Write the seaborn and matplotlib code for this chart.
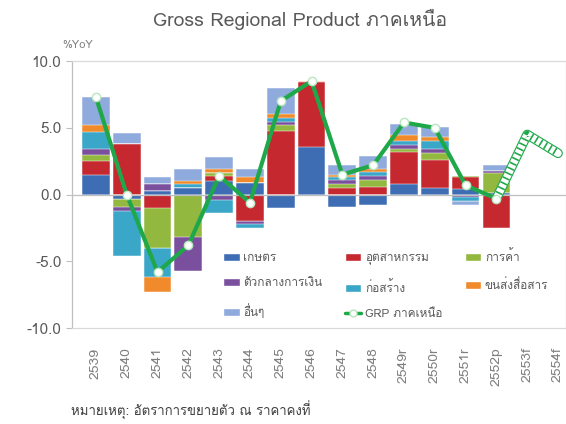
import numpy as np
import pandas as pd
import matplotlib
matplotlib.use("Agg")
import matplotlib.pyplot as plt
from matplotlib.patches import Patch
from matplotlib.lines import Line2D
from matplotlib import font_manager
import seaborn as sns

years = ['2539', '2540', '2541', '2542', '2543', '2544', '2545', '2546', '2547', '2548',
         '2549r', '2550r', '2551r', '2552p', '2553f', '2554f']

# contribution to growth by sector (% pts)
agri   = [1.5, -0.3, 0.3, 0.5, 1.0, 0.9, -1.0, 3.6, -0.95, -0.8, 0.8, 0.5, 0.4, 0.1, 0, 0]
ind    = [1.0, 3.8, -1.0, 0.0, 0.4, -2.0, 4.8, 4.8, 0.5, 0.6, 2.4, 2.1, 0.9, -2.5, 0, 0]
trade  = [0.5, -0.6, -3.0, -3.2, 0.2, 0.0, 0.4, 0.0, 0.3, 0.5, 0.2, 0.5, 0.1, 1.5, 0, 0]
fin    = [0.4, -0.3, 0.5, -2.5, -0.4, -0.2, 0.2, 0.0, 0.3, 0.3, 0.3, 0.3, -0.2, 0.2, 0, 0]
constr = [1.3, -3.4, -2.2, 0.3, -1.0, -0.3, 0.3, 0.0, 0.2, 0.3, 0.3, 0.6, -0.3, 0.0, 0, 0]
trans  = [0.5, 0.0, -1.1, 0.2, 0.3, 0.4, 0.3, 0.1, 0.2, 0.2, 0.5, 0.3, 0.0, 0.0, 0, 0]
others = [2.1, 0.8, 0.5, 0.9, 0.9, 0.6, 2.0, 0.0, 0.7, 1.0, 0.8, 0.8, -0.3, 0.4, 0, 0]

grp = [7.3, 0.0, -5.8, -3.8, 1.4, -0.6, 7.0, 8.5, 1.5, 2.2, 5.4, 5.0, 0.7, -0.3, np.nan, np.nan]
grp_fc = [np.nan] * 13 + [-0.3, 4.5, 3.1]

sectors = ['เกษตร', 'อุตสาหกรรม', 'การค้า', 'ตัวกลางการเงิน', 'ก่อสร้าง', 'ขนส่งสื่อสาร', 'อื่นๆ']
colors = ['#3F6DB4', '#C5282E', '#93B840', '#7A4F9E', '#3AA6C8', '#F08A2B', '#8FAADC']
values = [agri, ind, trade, fin, constr, trans, others]
GREEN = '#1FA84A'


def thai_family():
    from fontTools.ttLib import TTFont
    found = []
    for f in font_manager.fontManager.ttflist:
        try:
            cmap = TTFont(f.fname, fontNumber=0, lazy=True).getBestCmap()
            if 0x0E01 in cmap:
                found.append(f.name)
        except Exception:
            pass
    return found[0] if found else None


sns.set_style("white")
fam = thai_family()
plt.rcParams['font.family'] = ([fam] if fam else []) + ['DejaVu Sans']

fig = plt.figure(figsize=(5.66, 4.24), dpi=100)
ax = fig.add_axes([0.127, 0.226, 0.873, 0.630])

# stacked bars: positive / negative parts stacked separately (overlapping cumulative bars)
vals = np.array(values)
pos_cum = np.cumsum(np.clip(vals, 0, None), axis=0)
neg_cum = np.cumsum(np.clip(vals, None, 0), axis=0)
for i in range(len(sectors) - 1, -1, -1):
    for cum in (pos_cum, neg_cum):
        df = pd.DataFrame({'year': years, 'v': cum[i]})
        sns.barplot(data=df, x='year', y='v', order=years, color=colors[i], saturation=1,
                    width=0.9, edgecolor='white', linewidth=0.35, ax=ax)

ax.axhline(0, color='#BFBFBF', lw=0.9, zorder=1)

idx = np.arange(len(years))
line_df = pd.DataFrame({'i': idx, 'grp': grp, 'fc': grp_fc})
# forecast: thin-outlined band with hatched fill
sns.lineplot(data=line_df, x='i', y='fc', color=GREEN, lw=7, ax=ax, sort=False, zorder=4)
sns.lineplot(data=line_df, x='i', y='fc', color='white', lw=5.4, ax=ax, sort=False, zorder=4)
sns.lineplot(data=line_df, x='i', y='fc', color=GREEN, lw=5.4, ax=ax, sort=False, zorder=4)
ax.lines[-1].set_dashes([0.22, 0.5])
sns.lineplot(data=line_df, x='i', y='grp', color=GREEN, lw=3, marker='o', ms=6,
             mfc='white', mec='#B8E6BF', mew=1, ax=ax, sort=False, zorder=5)

ax.set_xlim(-0.78, 15.26)
ax.set_ylim(-10, 10)
ax.set_yticks([-10, -5, 0, 5, 10])
ax.set_yticklabels([f'{v:.1f}' for v in [-10, -5, 0, 5, 10]])
ax.set_xticks(idx)
ax.set_xticklabels(years, rotation=90)
ax.set_xlabel('')
ax.set_ylabel('')
ax.tick_params(axis='y', labelsize=11, labelcolor='#595959', colors='#BFBFBF',
               length=4, width=0.8, left=True)
ax.tick_params(axis='x', labelsize=10, labelcolor='#7F7F7F', length=0, pad=14)
for s in ax.spines.values():
    s.set_color('#D9D9D9')
    s.set_linewidth(0.9)
ax.spines['left'].set_color('#BFBFBF')

handles = [Patch(facecolor=c, edgecolor='white') for c in colors]
handles.append(Line2D([], [], color=GREEN, lw=2.5, marker='o', ms=5, mfc='white', mec='#B8E6BF'))
labels = sectors + ['GRP ภาคเหนือ']
order = [0, 3, 6, 1, 4, 7, 2, 5]
ax.legend([handles[k] for k in order], [labels[k] for k in order], ncol=3, frameon=False,
          loc='upper left', bbox_to_anchor=(0.285, 0.335), fontsize=8.5, labelcolor='#595959',
          handlelength=1.4, handletextpad=0.3, columnspacing=1.9, labelspacing=1.25)

fig.text(0.53, 0.955, 'Gross Regional Product ภาคเหนือ', ha='center', va='center',
         fontsize=14, color='#595959')
fig.text(0.11, 0.895, '%YoY', ha='left', va='center', fontsize=8, color='#808080')
fig.text(0.125, 0.033, 'หมายเหตุ: อัตราการขยายตัว ณ ราคาคงที่', ha='left', va='center',
         fontsize=9.5, color='#404040')

fig.savefig('out.png', dpi=100)
